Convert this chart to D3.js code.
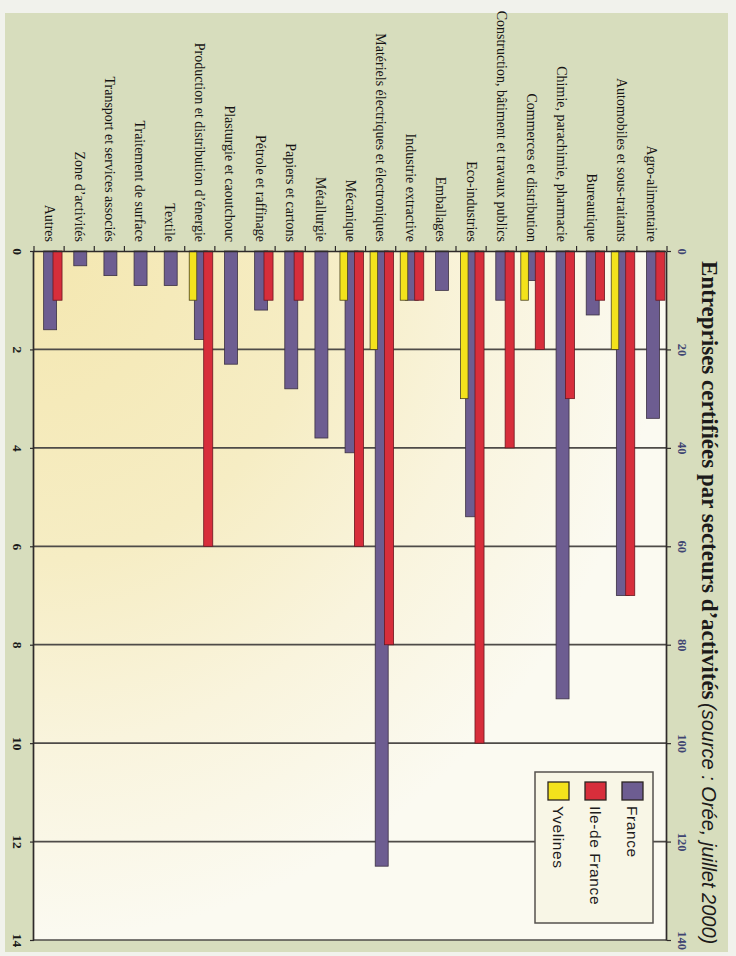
<!DOCTYPE html>
<html><head><meta charset="utf-8">
<script src="https://cdn.jsdelivr.net/npm/d3@7"></script>
<style>body{margin:0;background:#fff}svg{display:block}</style>
</head><body>
<svg id="c" width="736" height="956"></svg>
<script>
// ---- data (original chart is a horizontal bar chart, shown rotated 90° clockwise) ----
const categories = [
  "Agro-alimentaire",
  "Automobiles et sous-traitants",
  "Bureautique",
  "Chimie, parachimie, pharmacie",
  "Commerces et distribution",
  "Construction, bâtiment et travaux publics",
  "Eco-industries",
  "Emballages",
  "Industrie extractive",
  "Matériels électriques et électroniques",
  "Mécanique",
  "Métallurgie",
  "Papiers et cartons",
  "Pétrole et raffinage",
  "Plasturgie et caoutchouc",
  "Production et distribution d’énergie",
  "Textile",
  "Traitement de surface",
  "Transport et services associés",
  "Zone d’activités",
  "Autres"
];
// France read on the 0–140 axis
const france      = [34, 70, 13, 91, 6, 10, 54, 8, 10, 125, 41, 38, 28, 12, 23, 18, 7, 7, 5, 3, 16];
// Ile-de France and Yvelines read on the 0–14 axis
const ileDeFrance = [1, 7, 1, 3, 2, 4, 10, 0, 1, 8, 6, 0, 1, 1, 0, 6, 0, 0, 0, 0, 1];
const yvelines    = [0, 2, 0, 0, 1, 0, 3, 0, 1, 2, 1, 0, 0, 0, 0, 1, 0, 0, 0, 0, 0];
const topTicks    = [0, 20, 40, 60, 80, 100, 120, 140];
const bottomTicks = [0, 2, 4, 6, 8, 10, 12, 14];
const seriesNames = ["France", "Ile-de France", "Yvelines"];
const seriesColors = ["#6d5d91", "#d72e3b", "#f3e21c"];
const titleMain   = "Entreprises certifiées par secteurs d’activités";
const titleSource = "(source : Orée, juillet 2000)";

// ---- drawing ----
const W = 736, H = 956;
const svg = d3.select("#c");
const defs = svg.append("defs");

// page background and green panel (image coordinates)
svg.append("rect").attr("width", W).attr("height", H).attr("fill", "#f1f2ec");
svg.append("rect").attr("x", 5).attr("y", 13).attr("width", 723).attr("height", 939).attr("fill", "#d7ddbd");

const grad = defs.append("radialGradient").attr("id", "plotbg")
  .attr("gradientUnits", "objectBoundingBox").attr("cx", 0).attr("cy", 1).attr("r", 1.0);
[[0, "#f4e7b0"], [0.45, "#f6edc4"], [0.72, "#f9f4dd"], [1, "#fbfaf1"]]
  .forEach(([o, c]) => grad.append("stop").attr("offset", o).attr("stop-color", c));

// rotated group: u (group x) = image y, v (group y) = 736 - image x
const g = svg.append("g").attr("transform", `translate(${W},0) rotate(90)`);

const xTop = d3.scaleLinear().domain([0, 140]).range([251, 940]);
const xBot = d3.scaleLinear().domain([0, 14]).range([251, 940]);
const y = d3.scaleBand().domain(categories).range([69, 702]).paddingInner(0).paddingOuter(0);
const bw = y.bandwidth();
const [v0, v1] = y.range();

// plot background
g.append("rect").attr("x", xBot(0)).attr("y", v0)
  .attr("width", xBot(14) - xBot(0)).attr("height", v1 - v0).attr("fill", "url(#plotbg)");

// gridlines
g.append("g").selectAll("line").data(bottomTicks.filter(d => d > 0)).join("line")
  .attr("x1", d => xBot(d)).attr("x2", d => xBot(d)).attr("y1", v0).attr("y2", v1)
  .attr("stroke", "#4e4b48").attr("stroke-width", 1.7);

// bars
const rows = categories.map((c, i) => ({c, f: france[i], r: ileDeFrance[i], yv: yvelines[i]}));
const barStroke = "#3b3042";
g.append("g").selectAll("rect").data(rows.filter(d => d.f > 0)).join("rect")
  .attr("x", xTop(0)).attr("width", d => xTop(d.f) - xTop(0))
  .attr("y", d => y(d.c) + bw * 0.25).attr("height", bw * 0.43)
  .attr("fill", seriesColors[0]).attr("stroke", barStroke).attr("stroke-width", 0.8);
g.append("g").selectAll("rect").data(rows.filter(d => d.yv > 0)).join("rect")
  .attr("x", xBot(0)).attr("width", d => xBot(d.yv) - xBot(0))
  .attr("y", d => y(d.c) + bw * 0.60).attr("height", bw * 0.25)
  .attr("fill", seriesColors[2]).attr("stroke", "#4a4220").attr("stroke-width", 0.8);
g.append("g").selectAll("rect").data(rows.filter(d => d.r > 0)).join("rect")
  .attr("x", xBot(0)).attr("width", d => xBot(d.r) - xBot(0))
  .attr("y", d => y(d.c) + bw * 0.07).attr("height", bw * 0.30)
  .attr("fill", seriesColors[1]).attr("stroke", "#6a1820").attr("stroke-width", 0.8);

// category axis (image top)
const catAxis = g.append("g").attr("transform", `translate(${xBot(0)},0)`)
  .call(d3.axisLeft(y).tickSize(0).tickPadding(9));
catAxis.select(".domain").attr("stroke", "#2e2a2a").attr("stroke-width", 1.7);
catAxis.selectAll("text").attr("font-family", "Liberation Serif, serif").attr("font-size", 14)
  .attr("fill", "#161414");
// boundary ticks
const bounds = categories.map(c => y(c)).concat([v1]);
g.append("g").selectAll("line").data(bounds).join("line")
  .attr("x1", xBot(0) - 5).attr("x2", xBot(0)).attr("y1", d => d).attr("y2", d => d)
  .attr("stroke", "#2e2a2a").attr("stroke-width", 1.2);

// value axis 0–140 (image right)
const ta = g.append("g").attr("transform", `translate(0,${v0})`)
  .call(d3.axisTop(xTop).tickValues(topTicks).tickSize(4).tickSizeOuter(0).tickPadding(7));
ta.select(".domain").attr("stroke", "#2e2a2a").attr("stroke-width", 1.7);
ta.selectAll(".tick line").attr("stroke", "#2e2a2a").attr("stroke-width", 1.2);
ta.selectAll("text").attr("font-family", "Liberation Serif, serif").attr("font-weight", "bold")
  .attr("font-size", 12.5).attr("fill", "#3f4572");

// value axis 0–14 (image left)
const ba = g.append("g").attr("transform", `translate(0,${v1})`)
  .call(d3.axisBottom(xBot).tickValues(bottomTicks).tickSize(4).tickSizeOuter(0).tickPadding(7));
ba.select(".domain").attr("stroke", "#2e2a2a").attr("stroke-width", 1.7);
ba.selectAll(".tick line").attr("stroke", "#2e2a2a").attr("stroke-width", 1.2);
ba.selectAll("text").attr("font-family", "Liberation Serif, serif").attr("font-weight", "bold")
  .attr("font-size", 13.5).attr("fill", "#1a1a1a");

// legend
const lg = g.append("g");
lg.append("rect").attr("x", 772).attr("y", 83).attr("width", 151).attr("height", 118)
  .attr("fill", "#f8f6e6").attr("stroke", "#55524e").attr("stroke-width", 1.5);
const li = lg.selectAll("g.item").data(seriesNames).join("g").attr("class", "item")
  .attr("transform", (d, i) => `translate(782,${93 + i * 37})`);
li.append("rect").attr("width", 18).attr("height", 21)
  .attr("fill", (d, i) => seriesColors[i]).attr("stroke", "#2b2622").attr("stroke-width", 1.3);
li.append("text").attr("x", 24).attr("y", 10.5).attr("dy", "0.35em").text(d => d)
  .attr("font-family", "Liberation Sans, sans-serif").attr("font-size", 15.5)
  .attr("letter-spacing", 0.6).attr("fill", "#1e1c1c");

// title
g.append("text").attr("x", 261).attr("y", 34).text(titleMain)
  .attr("font-family", "Liberation Serif, serif").attr("font-weight", "bold")
  .attr("font-size", 23).attr("fill", "#1c1a1a");
g.append("text").attr("x", 703).attr("y", 34).text(titleSource)
  .attr("font-family", "Liberation Sans, sans-serif").attr("font-style", "italic")
  .attr("font-size", 20).attr("fill", "#1c1a1a");
</script>
</body></html>
